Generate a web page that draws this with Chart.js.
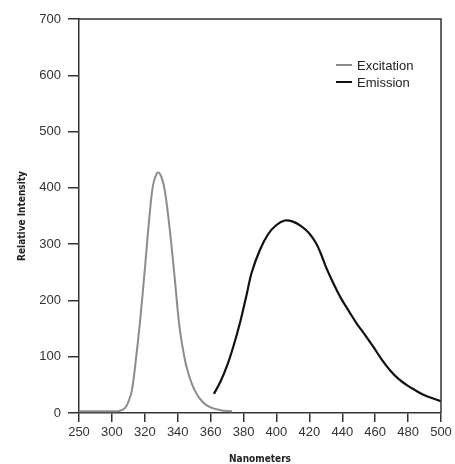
<!DOCTYPE html>
<html>
<head>
<meta charset="utf-8">
<script src="https://cdn.jsdelivr.net/npm/chart.js@4.4.0/dist/chart.umd.min.js"></script>
<style>
  body { margin: 0; background: #fff; }
  #wrap { width: 455px; height: 464px; }
</style>
</head>
<body>
<div id="wrap"><canvas id="spectrumChart" width="455" height="464"></canvas></div>
<script>
// tick labels of the broken x axis (250 -> 300 takes one step, then 20 nm steps)
var xTickLabels = ['250', '300', '320', '340', '360', '380', '400', '420', '440', '460', '480', '500'];

// excitation spectrum, wavelength (nm) / intensity
var excitationNm = [250, 280, 300, 305, 308, 310, 312, 314, 317, 320, 323, 325, 327, 328.5, 330, 332, 335, 338, 341, 344, 346, 350, 355, 360, 366, 373];
var excitationVal = [3, 3, 3, 4, 9, 20, 38, 80, 160, 255, 355, 405, 424, 427, 420, 398, 330, 245, 155, 100, 75, 42, 20, 10, 5, 3];

// emission spectrum
var emissionNm = [362, 366, 370, 374, 378, 382, 385, 390, 395, 400, 405, 410, 415, 420, 424, 427, 430, 434, 439, 444, 449, 454, 459, 464, 469, 474, 479, 484, 489, 494, 500];
var emissionVal = [34, 56, 84, 120, 162, 212, 250, 290, 318, 334, 342, 340, 332, 319, 302, 283, 260, 234, 205, 181, 158, 138, 117, 95, 76, 61, 50, 41, 33, 27, 21];

// position on the broken axis
function axisPos(nm) {
    if (nm <= 300) return (nm - 250) / 50;
    return 1 + (nm - 300) / 20;
}

function toPoints(xs, ys) {
    return xs.map(function (x, i) { return { x: axisPos(x), y: ys[i] }; });
}

var axisColor = '#333333';
var tickFont = { family: "'Liberation Sans', Arial, sans-serif", size: 13 };
var titleFont = { family: "'Liberation Sans Narrow', 'DejaVu Sans Condensed', Arial, sans-serif", size: 10, weight: 'bold', lineHeight: 1 };

// top and right edges of the frame
var framePlugin = {
    id: 'frame',
    afterDraw: function (chart) {
        var a = chart.chartArea, c = chart.ctx;
        c.save();
        c.strokeStyle = axisColor;
        c.lineWidth = 1.5;
        c.beginPath();
        c.moveTo(a.left, a.top);
        c.lineTo(a.right, a.top);
        c.lineTo(a.right, a.bottom);
        c.stroke();
        c.restore();
    }
};

// small legend inside the plot, upper right
var legendPlugin = {
    id: 'innerLegend',
    afterDraw: function (chart) {
        var c = chart.ctx;
        var x0 = 336, y0 = 65, row = 17;
        c.save();
        c.font = '13px ' + tickFont.family;
        c.textBaseline = 'middle';
        chart.data.datasets.forEach(function (ds, i) {
            var y = y0 + i * row;
            c.strokeStyle = ds.borderColor;
            c.lineWidth = 2;
            c.beginPath();
            c.moveTo(x0, y);
            c.lineTo(x0 + 16, y);
            c.stroke();
            c.fillStyle = '#222';
            c.fillText(ds.label, x0 + 21, y + 1);
        });
        c.restore();
    }
};

var ctx = document.getElementById('spectrumChart').getContext('2d');

var chart = new Chart(ctx, {
    type: 'line',
    data: {
        datasets: [{
            label: 'Excitation',
            data: toPoints(excitationNm, excitationVal),
            borderColor: '#8c8c8c',
            borderWidth: 2,
            pointRadius: 0,
            tension: 0.4,
            fill: false
        }, {
            label: 'Emission',
            data: toPoints(emissionNm, emissionVal),
            borderColor: '#111111',
            borderWidth: 2.2,
            pointRadius: 0,
            tension: 0.4,
            fill: false
        }]
    },
    options: {
        responsive: false,
        animation: false,
        layout: {
            padding: { top: 19, right: 14, left: 0, bottom: 0 }
        },
        scales: {
            x: {
                type: 'linear',
                min: 0,
                max: 11,
                afterBuildTicks: function (scale) {
                    scale.ticks = xTickLabels.map(function (l, i) { return { value: i }; });
                },
                afterFit: function (scale) { scale.height = 51; },
                ticks: {
                    color: axisColor,
                    font: tickFont,
                    padding: 3,
                    maxRotation: 0,
                    autoSkip: false,
                    callback: function (v) { return xTickLabels[v]; }
                },
                grid: {
                    drawOnChartArea: false,
                    drawTicks: true,
                    tickLength: 9,
                    color: axisColor,
                    lineWidth: 1.5
                },
                border: { color: axisColor, width: 1.5 },
                title: {
                    display: true,
                    text: 'Nanometers',
                    color: '#222',
                    font: titleFont,
                    padding: { top: 0, bottom: 0 }
                }
            },
            y: {
                min: 0,
                max: 700,
                afterFit: function (scale) { scale.width = 79; },
                ticks: {
                    stepSize: 100,
                    color: axisColor,
                    font: tickFont,
                    padding: 7
                },
                grid: {
                    drawOnChartArea: false,
                    drawTicks: true,
                    tickLength: 11,
                    color: axisColor,
                    lineWidth: 1.5
                },
                border: { color: axisColor, width: 1.5 },
                title: {
                    display: true,
                    text: 'Relative Intensity',
                    color: '#222',
                    font: titleFont,
                    padding: { top: 17, bottom: 0 }
                }
            }
        },
        plugins: {
            legend: { display: false },
            tooltip: { enabled: false }
        }
    },
    plugins: [framePlugin, legendPlugin]
});
</script>
</body>
</html>
